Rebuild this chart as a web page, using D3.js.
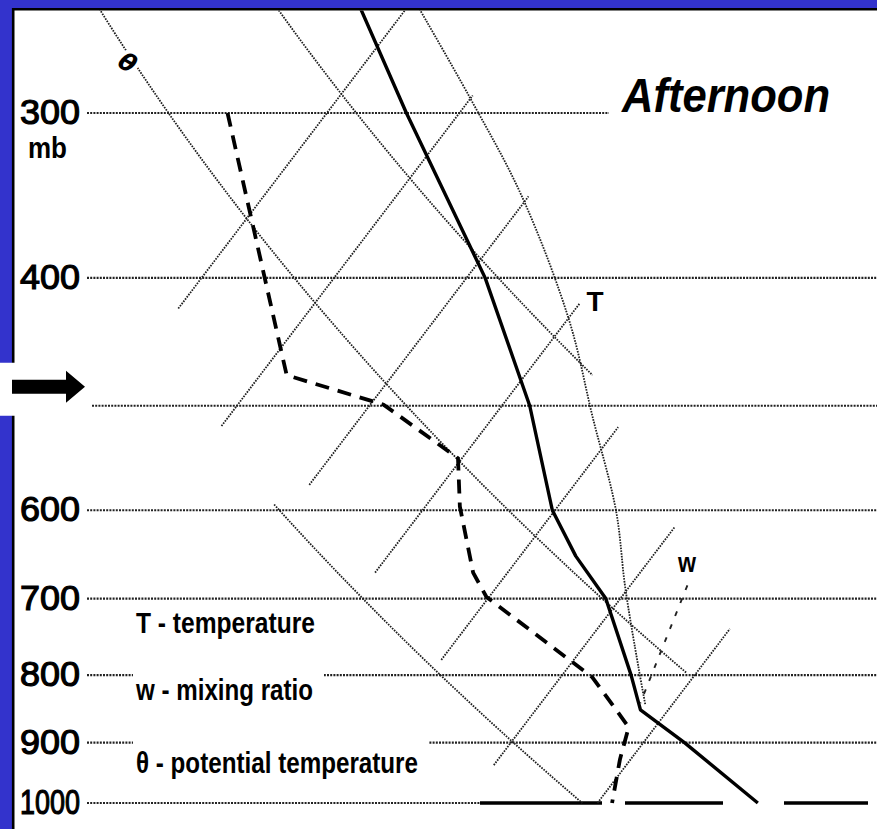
<!DOCTYPE html>
<html>
<head>
<meta charset="utf-8">
<script src="https://cdnjs.cloudflare.com/ajax/libs/d3/7.8.5/d3.min.js"></script>
<style>
  body { margin: 0; background: #3333cc; }
  svg { display: block; }
</style>
</head>
<body>
<div id="chart-wrapper"></div>
<script>
// pressure levels (mb) and the labels on the left
var levels = [300, 400, 500, 600, 700, 800, 900, 1000];
var levelLabels = ["300", "400", "", "600", "700", "800", "900", "1000"];

// isotherms (deg C) and the pressure span each one is drawn over
var isotherms = [-40, -30, -20, -10, 0, 10, 20];
var isothermBottom = [422, 518, 574, 669, 779, 936, 1000];
var isothermTop = [240, 291, 347, 418, 519, 618, 738];

// dry adiabats (potential temperature, K)
var adiabats = [292, 312, 332];
var adiabatBottom = [1000, 797, 474];
var adiabatTop = [594, 240, 240];

// saturated adiabat
var moistP = [245, 292, 347, 431, 510, 600, 686, 789, 843];
var moistT = [-40.2, -30.1, -20.5, -9.8, -2.5, 4.6, 9.7, 15.3, 18.0];

// mixing ratio line (w)
var mixP = [684, 840];
var mixT = [14.3, 17.5];

// afternoon sounding: temperature
var tempP = [245, 300, 400, 500, 600, 650, 700, 800, 850, 900, 1000];
var tempT = [-44.5, -34.0, -18.6, -7.9, -0.2, 4.2, 8.9, 15.2, 17.9, 23.1, 32.1];

// afternoon sounding: dew point
var dewP = [300, 474, 499, 548, 596, 669, 698, 803, 876, 927, 1000];
var dewT = [-47.5, -28.0, -19.0, -10.3, -7.4, -2.6, -0.2, 12.4, 18.0, 19.2, 21.1];

var legendLines = ["T - temperature", "w - mixing ratio", "\u03b8 - potential temperature"];

var width = 877, height = 829;

var yScale = d3.scaleLog().domain([300, 1000]).range([113, 803]);
// horizontal position of a temperature at the 1000 mb level
var tScale = d3.scaleLinear().domain([-40, 20]).range([-197.5, 597.5]);
var skew = 0.76;

function px(t, p) {
	return tScale(t) + skew * (yScale(1000) - yScale(p));
}

function pathFrom(ps, ts) {
	return ps.map(function(p, i){ return [px(ts[i], p), yScale(p)]; });
}

function adiabatPoints(theta, pTop, pBottom) {
	return d3.range(0, 41).map(function(i){
		var p = pTop * Math.pow(pBottom / pTop, i / 40);
		return [px(theta * Math.pow(p / 1000, 0.2857) - 273.15, p), yScale(p)];
	});
}

var svg = d3.select("#chart-wrapper").append("svg")
			.attr("width", width)
			.attr("height", height);

svg.append("rect").attr("width", width).attr("height", height).attr("fill", "#3333cc");
svg.append("rect").attr("x", 12).attr("y", 8)
	.attr("width", width - 12).attr("height", height - 8).attr("fill", "white");
svg.append("line").attr("x1", 12).attr("x2", width).attr("y1", 9.2).attr("y2", 9.2)
	.attr("stroke", "black").attr("stroke-width", 2.5);
svg.append("line").attr("x1", 13.2).attr("x2", 13.2).attr("y1", 8).attr("y2", height)
	.attr("stroke", "black").attr("stroke-width", 2.6);

svg.append("clipPath").attr("id", "plot")
	.append("rect").attr("x", 14.5).attr("y", 10.5)
	.attr("width", width - 14.5).attr("height", height - 10.5);

var plot = svg.append("g").attr("clip-path", "url(#plot)");
var line = d3.line();

// title, placed first so the 300 mb line can stop short of it
var titleX = 622;
var afternoonWidth = 208;

// isobars
var groundStart = 480;
levels.forEach(function(p){
	var x2 = width;
	if (p == 300) x2 = titleX - 13;
	if (p == 1000) x2 = groundStart;
	plot.append("line")
		.attr("x1", p == 500 ? 92 : 87).attr("x2", x2)
		.attr("y1", yScale(p)).attr("y2", yScale(p))
		.attr("stroke", "#222").attr("stroke-width", 2.1)
		.attr("stroke-dasharray", "2,1.2");
});

// ground line at 1000 mb
plot.append("line")
	.attr("x1", groundStart).attr("x2", 868)
	.attr("y1", yScale(1000)).attr("y2", yScale(1000))
	.attr("stroke", "black").attr("stroke-width", 3.4)
	.attr("stroke-dasharray", "122,23,98,61,84");

var gridStyle = function(sel){
	sel.attr("fill", "none").attr("stroke", "#1e1e1e")
		.attr("stroke-width", 1.8).attr("stroke-dasharray", "1.6,1.2");
};

isotherms.forEach(function(t, i){
	var pb = isothermBottom[i], pt = isothermTop[i];
	plot.append("path")
		.attr("d", line([[px(t, pb), yScale(pb)], [px(t, pt), yScale(pt)]]))
		.call(gridStyle);
});

adiabats.forEach(function(theta, i){
	plot.append("path")
		.attr("d", line(adiabatPoints(theta, adiabatTop[i], adiabatBottom[i])))
		.call(gridStyle);
});

plot.append("path")
	.attr("d", d3.line().curve(d3.curveCatmullRom)(pathFrom(moistP, moistT)))
	.call(gridStyle);

plot.append("path")
	.attr("d", line(pathFrom(mixP, mixT)))
	.attr("fill", "none").attr("stroke", "#222")
	.attr("stroke-width", 1.9).attr("stroke-dasharray", "5,9");

// legend, with white boxes that break the 800 and 900 mb lines
var legendX = 136;
var legendBase = [633, 700, 773];
var legendLength = [179, 177, 282];
legendLines.forEach(function(txt, i){
	if (i > 0) {
		plot.append("rect")
			.attr("x", legendX - 3).attr("y", legendBase[i] - 32)
			.attr("width", legendLength[i] + 14).attr("height", 44)
			.attr("fill", "white");
	}
	svg.append("text")
		.attr("x", legendX).attr("y", legendBase[i])
		.attr("textLength", legendLength[i]).attr("lengthAdjust", "spacingAndGlyphs")
		.style("font-family", "Liberation Sans, Arial, sans-serif")
		.style("font-size", "29px").style("font-weight", "bold")
		.text(txt);
});

// sounding
plot.append("path")
	.attr("d", line(pathFrom(tempP, tempT)))
	.attr("fill", "none").attr("stroke", "black").attr("stroke-width", 3.4)
	.attr("stroke-linejoin", "round");

plot.append("path")
	.attr("d", line(pathFrom(dewP, dewT)))
	.attr("fill", "none").attr("stroke", "black").attr("stroke-width", 3.8)
	.attr("stroke-dasharray", "14,9");

// pressure labels
levels.forEach(function(p, i){
	if (!levelLabels[i]) return;
	svg.append("text")
		.attr("x", 20).attr("y", yScale(p) + 11)
		.attr("textLength", 60).attr("lengthAdjust", "spacingAndGlyphs")
		.style("font-family", "Liberation Sans, Arial, sans-serif")
		.style("font-size", "35px")
		.style("stroke", "black").style("stroke-width", 1.2)
		.text(levelLabels[i]);
});
svg.append("text")
	.attr("x", 28).attr("y", yScale(300) + 45)
	.attr("textLength", 39).attr("lengthAdjust", "spacingAndGlyphs")
	.style("font-family", "Liberation Sans, Arial, sans-serif")
	.style("font-size", "30px").style("font-weight", "bold")
	.text("mb");

// arrow pointing at the level just above 500 mb
var arrowY = yScale(500) - 19;
svg.append("rect").attr("x", 0).attr("y", arrowY - 24)
	.attr("width", 15).attr("height", 53).attr("fill", "white");
svg.append("path")
	.attr("d", "M12," + (arrowY - 7) + "H66V" + (arrowY - 16) + "L85," + arrowY +
		"L66," + (arrowY + 16) + "V" + (arrowY + 7) + "H12Z")
	.attr("fill", "black");

// line labels
svg.append("text")
	.attr("x", 128).attr("y", 71)
	.attr("text-anchor", "middle")
	.attr("transform", "rotate(30,128,62)")
	.style("font-family", "DejaVu Sans, sans-serif").style("font-style", "italic")
	.style("font-weight", "bold").style("font-size", "24px")
	.style("stroke", "white").style("stroke-width", 8).style("paint-order", "stroke")
	.text("\u03b8");

svg.append("text")
	.attr("x", 595).attr("y", 311)
	.attr("text-anchor", "middle")
	.style("font-family", "Liberation Sans, Arial, sans-serif")
	.style("font-size", "28px").style("font-weight", "bold")
	.text("T");

svg.append("text")
	.attr("x", 678).attr("y", 572)
	.attr("textLength", 18).attr("lengthAdjust", "spacingAndGlyphs")
	.style("font-family", "Liberation Sans, Arial, sans-serif")
	.style("font-size", "27px").style("font-weight", "bold")
	.text("w");

svg.append("text")
	.attr("x", titleX).attr("y", 112)
	.attr("textLength", afternoonWidth).attr("lengthAdjust", "spacingAndGlyphs")
	.style("font-family", "Liberation Sans, Arial, sans-serif")
	.style("font-size", "49px").style("font-weight", "bold").style("font-style", "italic")
	.text("Afternoon");
</script>
</body>
</html>
